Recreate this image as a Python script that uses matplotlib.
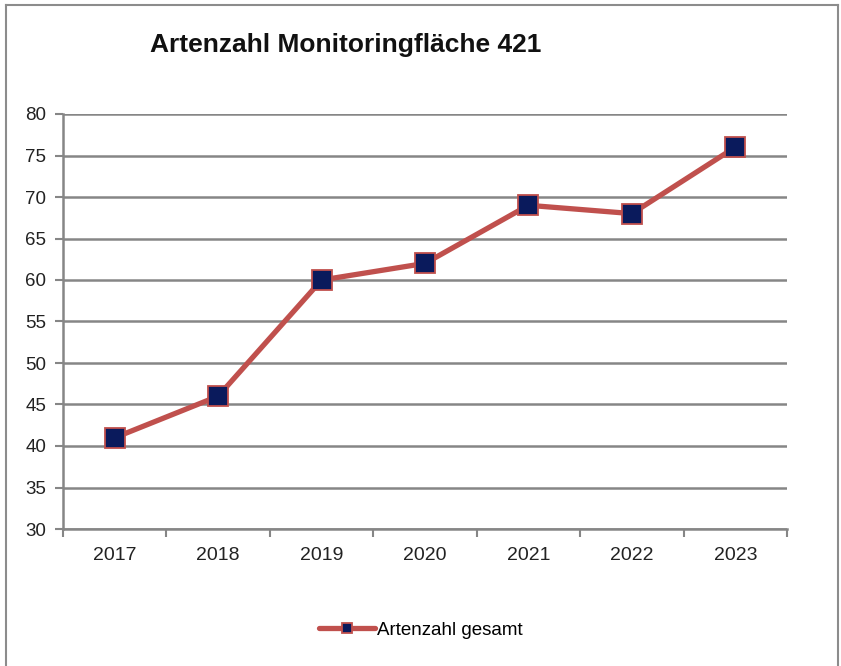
import matplotlib
matplotlib.use("Agg")
import matplotlib.pyplot as plt
from matplotlib.lines import Line2D

years = ["2017", "2018", "2019", "2020", "2021", "2022", "2023"]
values = [41, 46, 60, 62, 69, 68, 76]
series_name = "Artenzahl gesamt"
title = "Artenzahl Monitoringfläche 421"
yticks = [30, 35, 40, 45, 50, 55, 60, 65, 70, 75, 80]

plt.rcParams['font.family'] = ['Liberation Sans', 'DejaVu Sans']

W, H = 841, 666
fig = plt.figure(figsize=(W/100, H/100), dpi=100)

# outer frame
frame_col = "#8c8c8c"
fig.add_artist(Line2D([6/W, 6/W], [0, 1 - 5/H], transform=fig.transFigure, color=frame_col, lw=1.5))
fig.add_artist(Line2D([6/W, 838/W], [1 - 5/H, 1 - 5/H], transform=fig.transFigure, color=frame_col, lw=1.5))
fig.add_artist(Line2D([838/W, 838/W], [0, 1 - 5/H], transform=fig.transFigure, color=frame_col, lw=1.5))

left, right, top, bottom = 63, 787, 114, 529
ax = fig.add_axes([left/W, 1 - bottom/H, (right-left)/W, (bottom-top)/H])

x = list(range(len(years)))
line, = ax.plot(x, values, color="#C0504D", lw=3.8, marker="s", markersize=15,
                markerfacecolor="#0A1A5C", markeredgecolor="#C0504D", markeredgewidth=1.3,
                label=series_name, zorder=5, clip_on=False, solid_capstyle="round")

ax.set_xlim(-0.5, len(years) - 0.5)
ax.set_ylim(30, 80)
ax.set_yticks(yticks)
ax.set_yticklabels([str(v) for v in yticks])
ax.set_xticks(x)
ax.set_xticklabels(years)
ax.set_xticks([i - 0.5 for i in range(len(years) + 1)], minor=True)

grid_col = "#868686"
for v in yticks:
    ax.axhline(v, color=grid_col, lw=1.8, zorder=1)

for s in ["top", "right"]:
    ax.spines[s].set_visible(False)
for s in ["left", "bottom"]:
    ax.spines[s].set_color(grid_col)
    ax.spines[s].set_linewidth(1.8)

ax.tick_params(axis="y", direction="out", length=6, width=1.5, color=grid_col,
               labelsize=13.5, labelcolor="#222222", pad=6)
ax.tick_params(axis="x", which="major", length=0, labelsize=14, labelcolor="#222222", pad=13)
ax.tick_params(axis="x", which="minor", direction="out", length=6, width=1.5, color=grid_col)

fig.text(150/W, 1 - 45/H, title, fontsize=19, fontweight="bold", ha="left", va="center",
         color="#111111")

leg = fig.legend(handles=[line], loc="center", bbox_to_anchor=(421/W, 1 - 630/H),
                 frameon=False, fontsize=13.5, handlelength=3.0, handletextpad=0.1,
                 markerscale=0.5)

fig.savefig("out.png", dpi=100)
